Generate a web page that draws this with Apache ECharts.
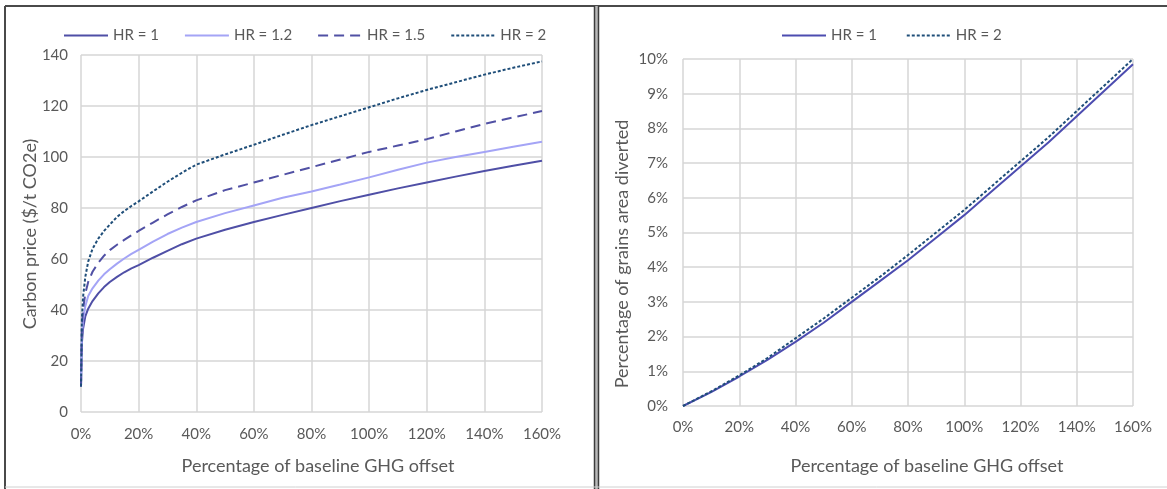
<!DOCTYPE html>
<html>
<head>
<meta charset="utf-8">
<script src="https://cdn.jsdelivr.net/npm/echarts@6/dist/echarts.min.js"></script>
<style>
  html, body { margin: 0; padding: 0; background: #fff; }
  #chart { width: 1167px; height: 489px; }
</style>
</head>
<body>
<div id="chart"></div>
<script>
// Left panel: carbon price vs. share of baseline GHG offset
const offsetLeft = [0, 0.3, 0.7, 1.5, 2.5, 4, 6, 8, 10, 12.5, 15, 17.5, 20, 25, 30, 35, 40, 50, 60, 70, 80, 90, 100, 110, 120, 130, 140, 150, 160];
const priceHR1   = [10, 27, 32.5, 37.5, 40.5, 43.5, 46.5, 49, 51, 53, 54.8, 56.3, 57.6, 60.5, 63.2, 65.8, 68, 71.5, 74.5, 77.3, 80, 82.7, 85.2, 87.7, 90, 92.3, 94.5, 96.6, 98.5];
const priceHR12  = [10, 30, 36, 41.5, 45.5, 48.5, 51.5, 54, 56, 58.2, 60.2, 62, 63.6, 66.8, 69.8, 72.3, 74.5, 78, 81, 84, 86.5, 89.2, 92, 95, 97.8, 100, 102, 104, 106];
const priceHR15  = [10, 33, 40, 46.5, 51, 55, 58.5, 61.3, 63.5, 65.6, 67.5, 69.3, 71, 74.3, 77.5, 80.4, 83, 87, 90, 93, 96, 99, 102, 104.5, 107, 110, 113, 115.5, 118];
const priceHR2   = [10, 36, 45, 53, 59, 64, 68, 71, 73.5, 76.5, 78.8, 80.8, 82.6, 86.5, 90.3, 93.8, 97, 101, 104.8, 108.7, 112.5, 116, 119.5, 123, 126.3, 129.3, 132.3, 135, 137.5];

// Right panel: share of grains area diverted (%)
const offsetRight = [0, 10, 20, 30, 40, 50, 60, 70, 80, 90, 100, 110, 120, 130, 140, 150, 160];
const areaHR1 = [0, 0.4, 0.85, 1.33, 1.85, 2.4, 3.0, 3.6, 4.2, 4.85, 5.5, 6.2, 6.9, 7.6, 8.35, 9.1, 9.85];
const areaHR2 = [0, 0.42, 0.88, 1.38, 1.95, 2.52, 3.12, 3.72, 4.35, 5.0, 5.65, 6.35, 7.05, 7.75, 8.5, 9.25, 10.0];

// Axis ticks
const xTicks = { min: 0, max: 160, interval: 20 };
const yLeftTicks = { min: 0, max: 140, interval: 20 };
const yRightTicks = { min: 0, max: 10, interval: 1 };

const FONT = 'Lato, "Open Sans", sans-serif';
const TXT = '#595959';
const GRID = '#d6d6d6';

const pairs = (xs, ys) => xs.map((x, i) => [x, ys[i]]);

function xAxis(gridIndex, margin) {
  return {
    type: 'value', gridIndex, ...xTicks,
    axisLine: { show: false }, axisTick: { show: false },
    splitLine: { show: true, lineStyle: { color: GRID, width: 1.5 } },
    axisLabel: { formatter: '{value}%', color: TXT, fontFamily: FONT, fontSize: 15, margin }
  };
}
function yAxis(gridIndex, ticks, fmt, margin) {
  return {
    type: 'value', gridIndex, ...ticks,
    axisLine: { show: false }, axisTick: { show: false },
    splitLine: { show: true, lineStyle: { color: GRID, width: 1.5 } },
    axisLabel: { formatter: fmt, color: TXT, fontFamily: FONT, fontSize: 15, margin }
  };
}
function line(name, xi, yi, data, color, type) {
  return {
    name, type: 'line', xAxisIndex: xi, yAxisIndex: yi, data,
    symbol: 'none', smooth: false,
    lineStyle: { color, width: 2, type },
    itemStyle: { color },
    emphasis: { disabled: true }
  };
}
const legendCommon = {
  top: 28, padding: 0, itemWidth: 44, itemHeight: 10, itemGap: 25,
  itemStyle: { opacity: 0 },
  textStyle: { color: TXT, fontFamily: FONT, fontSize: 15 }
};

const chart = echarts.init(document.getElementById('chart'), null, { renderer: 'canvas' });
chart.setOption({
  animation: false,
  backgroundColor: '#ffffff',
  grid: [
    { left: 81, right: 625, top: 55, bottom: 77 },
    { left: 683, right: 34, top: 59, bottom: 83 }
  ],
  xAxis: [xAxis(0, 15), xAxis(1, 14)],
  yAxis: [
    yAxis(0, yLeftTicks, '{value}', 13),
    yAxis(1, yRightTicks, '{value}%', 15)
  ],
  legend: [
    Object.assign({ left: 63, data: ['HR = 1', 'HR = 1.2', 'HR = 1.5', 'HR = 2'] }, legendCommon),
    Object.assign({ left: 781, data: ['HR = 1 ', 'HR = 2 '] }, legendCommon)
  ],
  series: [
    line('HR = 1', 0, 0, pairs(offsetLeft, priceHR1), '#4f4fa6', 'solid'),
    line('HR = 1.2', 0, 0, pairs(offsetLeft, priceHR12), '#a4a4f6', 'solid'),
    line('HR = 1.5', 0, 0, pairs(offsetLeft, priceHR15), '#5050a4', [10, 6]),
    line('HR = 2', 0, 0, pairs(offsetLeft, priceHR2), '#1f4e79', [3, 2]),
    line('HR = 1 ', 1, 1, pairs(offsetRight, areaHR1), '#4c4cb0', 'solid'),
    line('HR = 2 ', 1, 1, pairs(offsetRight, areaHR2), '#1f4e79', [3, 2])
  ],
  graphic: [
    // axis titles
    { type: 'text', x: 318, y: 466, style: { text: 'Percentage of baseline GHG offset', fill: TXT, font: '18px ' + FONT, align: 'center', verticalAlign: 'middle' } },
    { type: 'text', x: 927, y: 466, style: { text: 'Percentage of baseline GHG offset', fill: TXT, font: '18px ' + FONT, align: 'center', verticalAlign: 'middle' } },
    { type: 'text', x: 30, y: 234, rotation: Math.PI / 2, style: { text: 'Carbon price ($/t CO2e)', fill: TXT, font: '18px ' + FONT, align: 'center', verticalAlign: 'middle' } },
    { type: 'text', x: 622, y: 254, rotation: Math.PI / 2, style: { text: 'Percentage of grains area diverted', fill: TXT, font: '18px ' + FONT, align: 'center', verticalAlign: 'middle' } },
    // panel frames
    { type: 'line', shape: { x1: 5, y1: 6, x2: 1167, y2: 6 }, style: { stroke: '#4a4a4a', lineWidth: 2 } },
    { type: 'line', shape: { x1: 5, y1: 6, x2: 5, y2: 489 }, style: { stroke: '#4a4a4a', lineWidth: 2 } },
    { type: 'rect', shape: { x: 594, y: 6, width: 5, height: 483 }, style: { fill: '#b8b8b8' } },
    { type: 'line', shape: { x1: 594.5, y1: 6, x2: 594.5, y2: 489 }, style: { stroke: '#3c3c3c', lineWidth: 1.5 } },
    { type: 'line', shape: { x1: 598.5, y1: 6, x2: 598.5, y2: 489 }, style: { stroke: '#3c3c3c', lineWidth: 1.5 } },
    { type: 'line', shape: { x1: 5, y1: 487, x2: 1167, y2: 487 }, style: { stroke: '#d0d0d0', lineWidth: 1 } }
  ]
});
</script>
</body>
</html>
